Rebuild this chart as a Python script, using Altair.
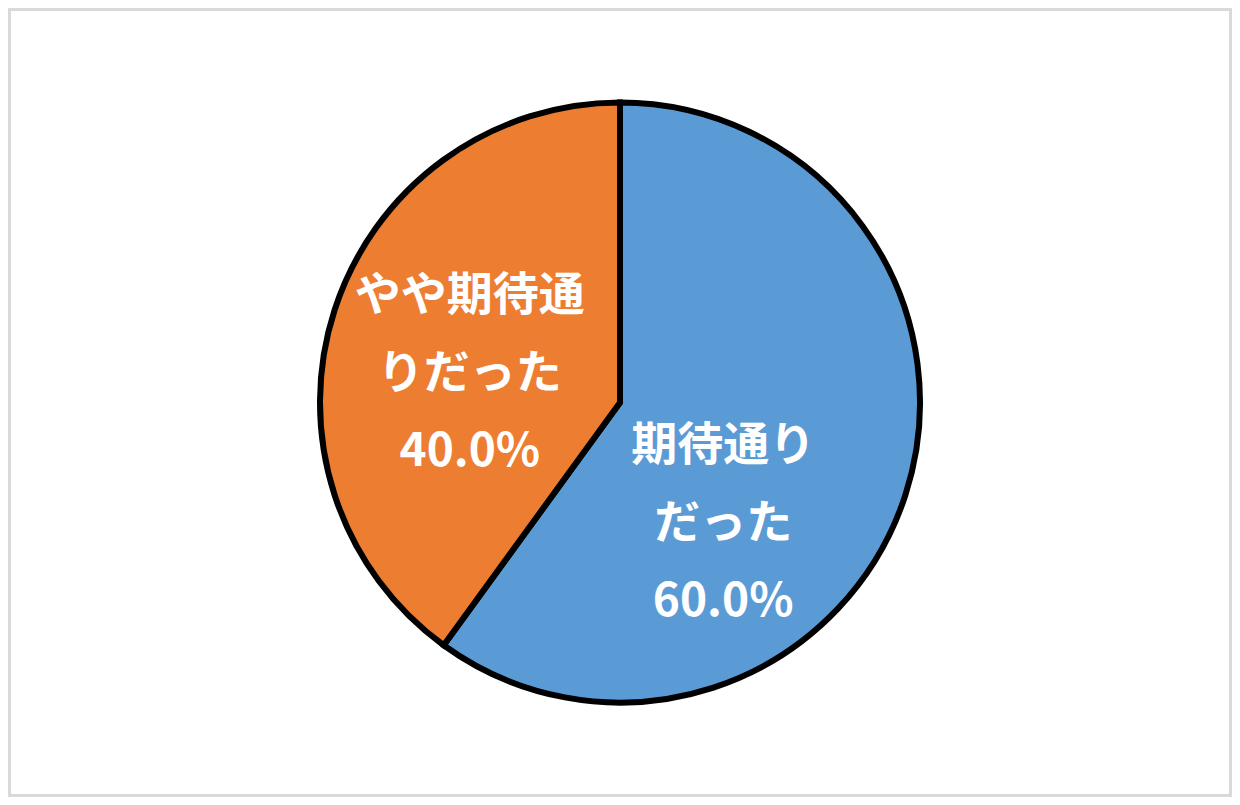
import altair as alt
import pandas as pd

categories = ["期待通りだった", "やや期待通りだった"]
values = [60.0, 40.0]
label_lines = [["期待通り", "だった"], ["やや期待通", "りだった"]]
colors = ["#5B9BD5", "#ED7D31"]

W, H = 1224, 789

df = pd.DataFrame({
    "category": categories,
    "value": values,
    "order": list(range(len(categories))),
    "label": ["\n".join(lines + [f"{v:.1f}%"]) for lines, v in zip(label_lines, values)],
})

base = alt.Chart(df).encode(
    theta=alt.Theta("value:Q", stack=True),
    order=alt.Order("order:Q"),
)

pie = base.mark_arc(outerRadius=300, stroke="black", strokeWidth=6).encode(
    color=alt.Color("category:N", scale=alt.Scale(domain=categories, range=colors), legend=None)
)

def label_layer(cat, dx, dy):
    return base.mark_text(
        radius=160, dx=dx, dy=dy, fontSize=46, fontWeight="bold",
        font="Noto Sans CJK JP", color="white", lineBreak="\n", lineHeight=78,
        align="center", baseline="middle",
    ).encode(
        text=alt.condition(alt.datum.category == cat, alt.Text("label:N"), alt.value(""))
    )

border = alt.Chart(df).mark_rect(
    fillOpacity=0, stroke="#D9D9D9", strokeWidth=3
).encode(
    x=alt.value(1.5), x2=alt.value(W - 1.5), y=alt.value(1.5), y2=alt.value(H - 1.5)
)

chart = alt.layer(
    pie,
    label_layer(categories[0], -49, -6),
    label_layer(categories[1], 2, -57),
    border,
).properties(
    width=W, height=H, padding=0, autosize=alt.AutoSizeParams(type="none"),
    background="white",
).configure_view(stroke=None)

chart.save("out.html", embed_options={"renderer": "svg", "actions": False})
